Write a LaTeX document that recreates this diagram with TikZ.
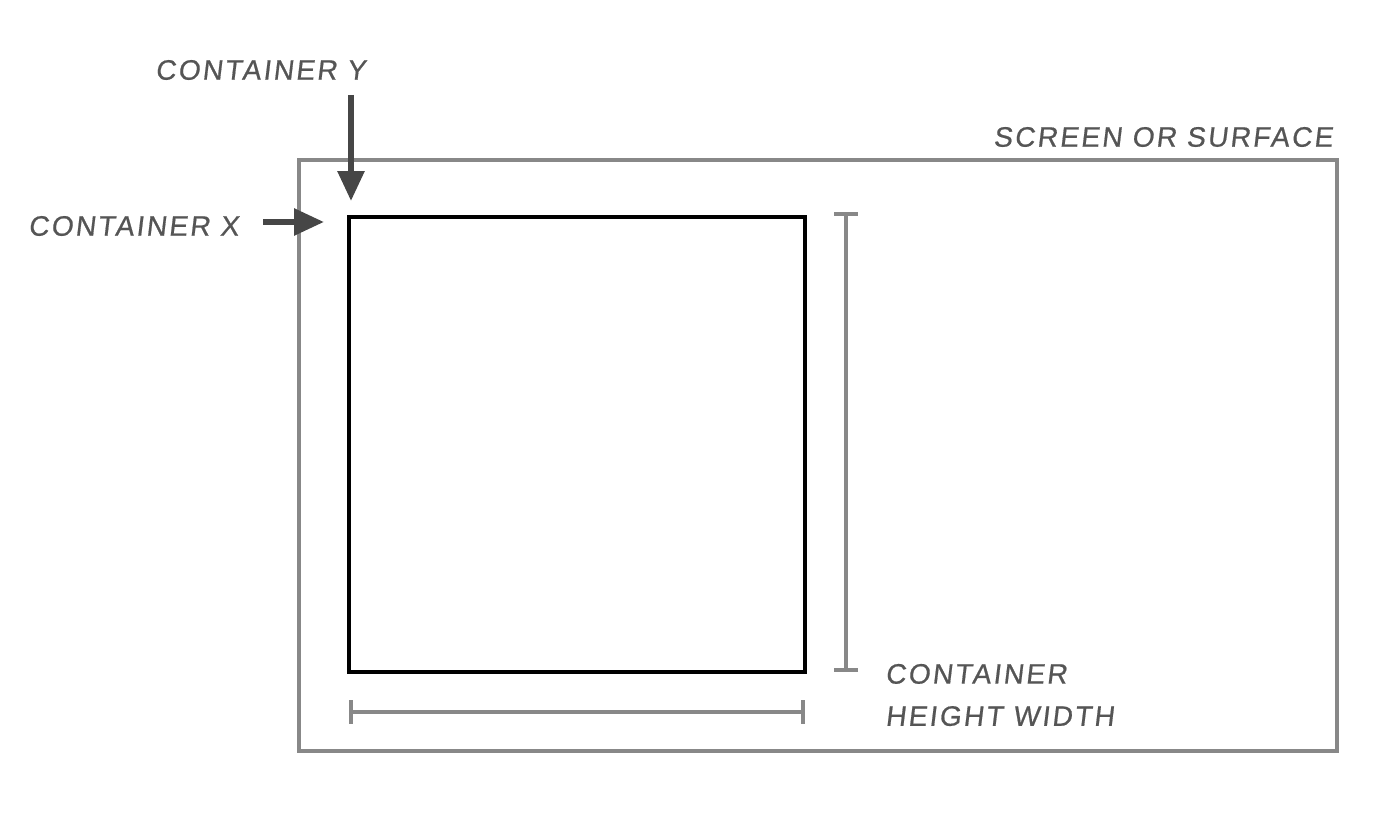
\documentclass[tikz,border=0pt]{standalone}
\usepackage{fontspec}
\setmainfont{Liberation Sans}[LetterSpace=8,FakeSlant=0.12,FakeBold=0.6]
\usepackage{tikz}
\usetikzlibrary{arrows.meta,positioning}
\definecolor{framegray}{RGB}{136,136,136}
\definecolor{arrowgray}{RGB}{70,70,70}
\definecolor{textgray}{RGB}{85,85,85}

\begin{document}
\begin{tikzpicture}[x=0.02cm, y=-0.02cm,
    screenbox/.style={rectangle, draw=framegray, line width=2.3pt,
        inner sep=0pt, outer sep=0pt},
    containerbox/.style={rectangle, draw=black, line width=1.8pt,
        inner sep=0pt, outer sep=0pt},
    lbl/.style={font=\fontsize{16}{24}\selectfont, text=textgray,
        inner sep=0pt, anchor=west, align=left},
    pointer/.style={-{Triangle[length=0.6cm, width=0.52cm]}, line width=3.3pt,
        arrowgray},
    dimen/.style={{Bar[width=0.48cm]}-{Bar[width=0.48cm]}, line width=2pt,
        framegray}
]
    \useasboundingbox (0,0) rectangle (1400,837);
    % surface and container
    \node[screenbox, minimum width=20.76cm, minimum height=11.82cm]
        (screen) at (818,455.5) {};
    \node[containerbox, minimum width=9.12cm, minimum height=9.1cm]
        (box) at (577,444.5) {};
    % labels
    \node[lbl] (ly) at (155,70) {CONTAINER Y};
    \node[lbl] (lx) at (28,226) {CONTAINER X};
    \node[lbl] (ls) at (993,137) {SCREEN OR SURFACE};
    \node[lbl] (lhw) at (885,695) {CONTAINER\\HEIGHT WIDTH};
    % position pointers
    \coordinate (ytail) at (351,95);
    \coordinate (ytip) at (351,201);
    \coordinate (xtail) at (263,222);
    \coordinate (xtip) at (324,222);
    \draw[pointer] (ytail) -- (ytip);
    \draw[pointer] (xtail) -- (xtip);
    % size markers
    \coordinate (htop) at (846,212);
    \coordinate (hbot) at (846,672);
    \coordinate (wl) at (349,712);
    \coordinate (wr) at (805,712);
    \draw[dimen] (htop) -- (hbot);
    \draw[dimen] (wl) -- (wr);
\end{tikzpicture}
\end{document}
